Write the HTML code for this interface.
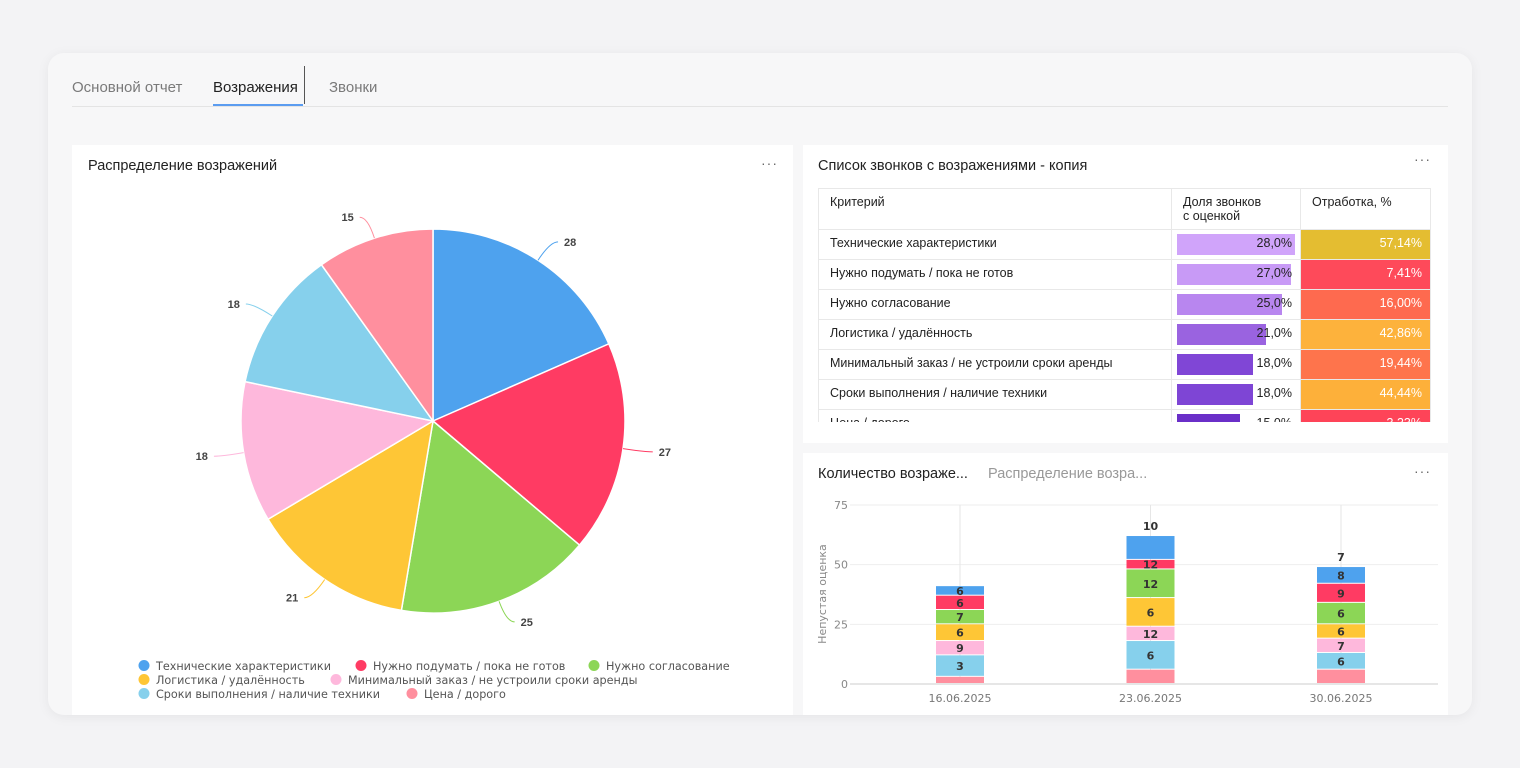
<!DOCTYPE html>
<html><head><meta charset="utf-8">
<style>
body{margin:0;width:1520px;height:768px;background:#f3f3f5;font-family:"Liberation Sans","Noto Sans CJK SC",sans-serif;overflow:hidden;position:relative;color:#222}
.card{position:absolute;left:48px;top:53px;width:1424px;height:662px;background:#f7f7f8;border-radius:16px;box-shadow:0 2px 12px rgba(0,0,0,.06)}
.tab{position:absolute;top:79px;font-size:15px;color:#7a7a7a}
.panel{position:absolute;background:#fff}
.ptitle{position:absolute;font-size:14.5px;color:#222}
.dots{position:absolute;font-size:14px;color:#666;letter-spacing:1px}
table{border-collapse:collapse;position:absolute;left:15px;top:43px;font-size:12.5px}
td{border:1px solid #e8e8e8;height:26px;padding:0 11px 3px 11px;vertical-align:middle;box-sizing:content-box}
</style></head><body>
<div class="card"></div>
<div class="tab" style="left:72px">Основной отчет</div>
<div class="tab" style="left:213px;color:#222">Возражения</div>
<div style="position:absolute;left:213px;top:104px;width:90px;height:2px;background:#5b9cf0"></div>
<div style="position:absolute;left:304px;top:66px;width:1px;height:38px;background:#555"></div>
<div class="tab" style="left:329px">Звонки</div>
<div style="position:absolute;left:72px;top:106px;width:1376px;height:1px;background:#e4e4e4"></div>

<div class="panel" style="left:72px;top:145px;width:721px;height:570px">
<div class="ptitle" style="left:16px;top:13px">Распределение возражений</div>
<div class="dots" style="left:689px;top:10px">···</div>
</div>
<div class="panel" style="left:803px;top:145px;width:645px;height:298px">
<div class="ptitle" style="left:15px;top:13px">Список звонков с возражениями - копия</div>
<div class="dots" style="left:611px;top:6px">···</div>
<div style="position:absolute;left:0;top:0;width:645px;height:277px;overflow:hidden">
<table id="tbl">
<tr><td style="width:330px;height:34px;vertical-align:top;padding-top:6px;padding-bottom:0">Критерий</td><td style="width:106px;height:34px;vertical-align:top;padding-top:6px;padding-bottom:0">Доля звонков<br>с оценкой</td><td style="width:107px;height:34px;vertical-align:top;padding-top:6px;padding-bottom:0">Отработка, %</td></tr>
</table></div>
</div>
<div class="panel" style="left:803px;top:453px;width:645px;height:262px">
<div class="ptitle" style="left:15px;top:13px">Количество возраже...</div>
<div class="ptitle" style="left:185px;top:13px;color:#999">Распределение возра...</div>
<div class="dots" style="left:611px;top:10px">···</div>
</div>
<svg id="svg" width="1520" height="768" style="position:absolute;left:0;top:0"></svg>
<script>
const pieCats=["Технические характеристики","Нужно подумать / пока не готов","Нужно согласование","Логистика / удалённость","Минимальный заказ / не устроили сроки аренды","Сроки выполнения / наличие техники","Цена / дорого"];
const pieVals=[28,27,25,21,18,18,15];
const colors=["#4ea2ee","#ff3b63","#8cd656","#fec636","#feb8dc","#86d0ec","#ff8f9e"];
const tblShare=[28,27,25,21,18,18,15];
const tblWork=["57,14%","7,41%","16,00%","42,86%","19,44%","44,44%","3,33%"];
const tblWorkColors=["#e4bd31","#fe4a5a","#fe6a4f","#fdb23c","#fe744c","#fdb03a","#fe4458"];
const barDates=["16.06.2025","23.06.2025","30.06.2025"];
// stack order bottom->top: Цена, Сроки, Минимальный, Логистика, Согласование, Подумать, Технические
const sPrice=[3,6,6],sTerms=[9,12,7],sMin=[6,6,6],sLog=[7,12,6],sAgree=[6,12,9],sThink=[6,4,8],sTech=[4,10,7];
const yTicks=[0,25,50,75];
const NS="http://www.w3.org/2000/svg",svg=document.getElementById('svg');
function el(t,a,p){const e=document.createElementNS(NS,t);for(const k in a)e.setAttribute(k,a[k]);(p||svg).appendChild(e);return e;}
// pie
const cx=433,cy=421,R=192,tot=pieVals.reduce((a,b)=>a+b,0);let a0=0;
pieVals.forEach((v,i)=>{const a1=a0+v/tot*2*Math.PI;
 const p=(a,r)=>[cx+r*Math.sin(a),cy-r*Math.cos(a)];
 const [x0,y0]=p(a0,R),[x1,y1]=p(a1,R);
 const s=el('path',{d:`M${cx},${cy}L${x0},${y0}A${R},${R} 0 ${a1-a0>Math.PI?1:0} 1 ${x1},${y1}Z`,fill:colors[i],stroke:'#fff','stroke-width':1.5});
 
 const am=(a0+a1)/2,[lx0,ly0]=p(am,R),[lx1,ly1]=p(am,R+22);
 const ln=el('path',{d:`M${lx0},${ly0}Q${lx1},${ly1} ${lx1+(Math.sin(am)>0?8:-8)},${ly1}`,stroke:colors[i],fill:'none','stroke-width':1});
 
 const right=Math.sin(am)>0;
 const t=el('text',{x:lx1+(right?14:-14),y:ly1+4,'font-size':11,'font-weight':'bold',fill:'#444','text-anchor':right?'start':'end'});t.textContent=v;
 
 a0=a1;});
// legend
const legPos=[[138,666],[355,666],[588,666],[138,680],[330,680],[138,694],[406,694]];
pieCats.forEach((c,i)=>{const g=el('g',{});
 el('circle',{cx:legPos[i][0]+6,cy:legPos[i][1]-0.5,r:5.5,fill:colors[i]},g);
 const t=el('text',{x:legPos[i][0]+18,y:legPos[i][1]+4,fill:'#555','font-family':'DejaVu Sans'},g);t.style.fontSize='11.2px';t.textContent=c;});
// table
const tbl=document.getElementById('tbl');
pieCats.forEach((c,i)=>{const tr=document.createElement('tr');
 const col=['#d0a4fa','#c89af6','#b886ef','#9a63e0','#8046d6','#7e45d5','#6a2fc8'][i];
 tr.innerHTML=`<td>${c}</td><td style="position:relative;padding:0;height:29px"><div style="position:absolute;left:5px;top:4px;height:21px;width:${tblShare[i]/28*118}px;background:${col}"></div><span style="position:absolute;right:8px;top:6px">${tblShare[i].toFixed(1).replace('.',',')}%</span></td><td style="background:${tblWorkColors[i]};color:#fff;text-align:right;padding-right:8px">${tblWork[i]}</td>`;
 
 
 tbl.appendChild(tr);});
// bar chart
const x0b=850,x1b=1438,yb=684,ppu=179/75;
const Y=v=>yb-v*ppu;const X=i=>960+i*(1341-960)/2;
yTicks.forEach(t=>{el('line',{x1:x0b,x2:x1b,y1:Y(t),y2:Y(t),stroke:t?'#eee':'#ccc'});
 const tx=el('text',{x:x0b-2,y:Y(t)+4,'font-size':11,fill:'#888','text-anchor':'end','font-family':'DejaVu Sans'});tx.textContent=t;
 });
const ax=el('text',{transform:`translate(826,594) rotate(-90)`,'font-size':11,fill:'#888','text-anchor':'middle','font-family':'DejaVu Sans'});ax.textContent='Непустая оценка';

const stacks=[sPrice,sTerms,sMin,sLog,sAgree,sThink,sTech];const scol=[colors[6],colors[5],colors[4],colors[3],colors[2],colors[1],colors[0]];
barDates.forEach((d,i)=>{const x=X(i);
 el('line',{x1:x,x2:x,y1:505,y2:yb,stroke:'#e6e6e6'});
 const dt=el('text',{x:x,y:702,'font-size':11,fill:'#777','text-anchor':'middle','font-family':'DejaVu Sans'});dt.textContent=d;
 
 let acc=0;const mids=[];
 stacks.forEach((s,k)=>{const y1=Y(acc+s[i]),y0=Y(acc);
  const r=el('rect',{x:x-24,y:y1,width:48,height:y0-y1-1,fill:scol[k]});
  
  mids.push((y0+y1)/2);acc+=s[i];});
 for(let k=0;k<stacks.length;k++){const v=stacks[k][i];if(v<5&&k>0)continue;
  const y=k+1<stacks.length?mids[k+1]:Y(acc)-10;
  const t=el('text',{x:x,y:y+4,'font-size':11,'font-weight':'bold',fill:'#333','text-anchor':'middle','font-family':'DejaVu Sans'});t.textContent=v;
  }
});
</script>
</body></html>
